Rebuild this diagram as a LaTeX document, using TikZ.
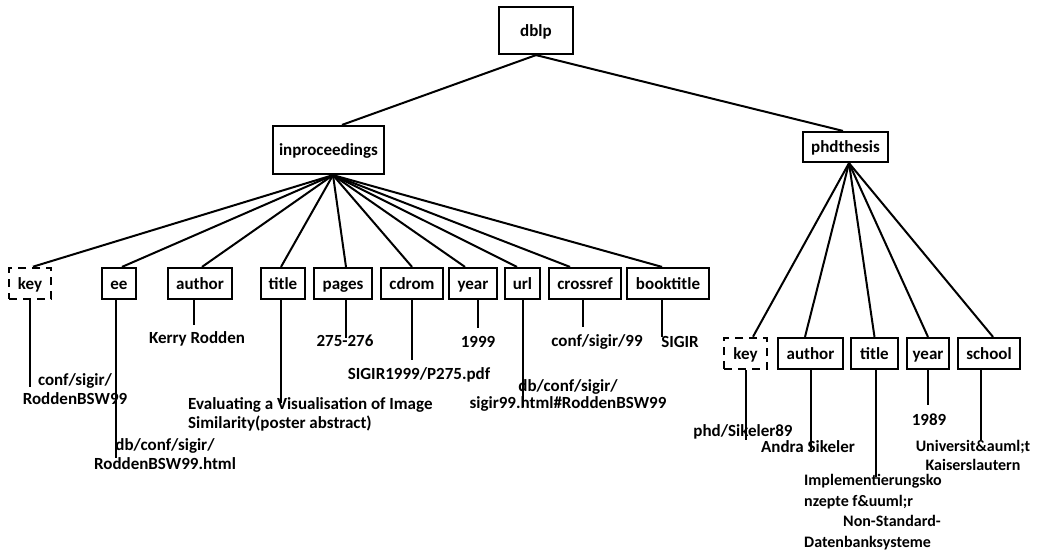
\documentclass[tikz,border=0pt]{standalone}
\usepackage{fontspec}
\setmainfont{Carlito}
\begin{document}
\begin{tikzpicture}[x=1pt,y=-1pt,
  every node/.style={font=\fontsize{17}{19}\selectfont\bfseries},
  box/.style={draw,line width=2.2pt,inner sep=0pt,minimum height=31pt,text height=12.5pt,text depth=1.5pt},
  dbox/.style={box,dashed,line width=2.6pt,dash pattern=on 8pt off 6pt},
  val/.style={inner sep=0pt,align=center},
  conn/.style={line width=2pt}]
\useasboundingbox (0,0) rectangle (1042,550);
% top levels
\node[box,minimum width=74pt,minimum height=47pt] (dblp) at (536,30.5) {dblp};
\node[box,minimum width=111pt,minimum height=48pt] (inp) at (328.5,150) {inproceedings};
\node[box,minimum width=85pt,minimum height=30pt] (phd) at (845.5,147) {phdthesis};
\draw[conn] (dblp.south) -- ([xshift=13.5pt]inp.north);
\draw[conn] (dblp.south) -- ([xshift=-2.5pt]phd.north);
% inproceedings children
\node[dbox,minimum width=42pt] (k1) at (30,283.5) {key};
\node[box,minimum width=34pt] (ee) at (119,283.5) {ee};
\node[box,minimum width=64pt] (au1) at (200,283.5) {author};
\node[box,minimum width=44pt] (ti1) at (283,283.5) {title};
\node[box,minimum width=58pt] (pg) at (343,283.5) {pages};
\node[box,minimum width=62pt] (cd) at (412,283.5) {cdrom};
\node[box,minimum width=48pt] (yr1) at (473,283.5) {year};
\node[box,minimum width=35pt] (url) at (522.5,283.5) {url};
\node[box,minimum width=72pt] (cr) at (585,283.5) {crossref};
\node[box,minimum width=82pt] (bt) at (668,283.5) {booktitle};
\coordinate (ib) at ([xshift=4.5pt]inp.south);
\draw[conn] (ib) -- ([xshift=3pt]k1.north);
\draw[conn] (ib) -- ([xshift=3pt]ee.north);
\draw[conn] (ib) -- ([xshift=2pt]au1.north);
\draw[conn] (ib) -- ([xshift=-2pt]ti1.north);
\draw[conn] (ib) -- ([xshift=3pt]pg.north);
\draw[conn] (ib) -- (cd.north);
\draw[conn] (ib) -- ([xshift=-8pt]yr1.north);
\draw[conn] (ib) -- ([xshift=-5.5pt]url.north);
\draw[conn] (ib) -- ([xshift=-15pt]cr.north);
\draw[conn] (ib) -- ([xshift=-6pt]bt.north);
% inproceedings values
\node[val] (vk1) at (75,389.5) {conf/sigir/\\RoddenBSW99};
\node[val] (vee) at (165,454.5) {db/conf/sigir/\\RoddenBSW99.html};
\node[val] (vau1) at (197,339) {Kerry Rodden};
\node[val,anchor=west,align=left] (vti1) at (188,414.5) {Evaluating a Visualisation of Image\\Similarity(poster abstract)};
\node[val] (vpg) at (345,341) {275-276};
\node[val] (vcd) at (419,375) {SIGIR1999/P275.pdf};
\node[val] (vyr1) at (478,342) {1999};
\node[val,font=\fontsize{17}{17.5}\selectfont\bfseries] (vurl) at (568,395.5) {db/conf/sigir/\\sigir99.html\#RoddenBSW99};
\node[val] (vcr) at (597,342) {conf/sigir/99};
\node[val] (vbt) at (680,342) {SIGIR};
\coordinate (ek1) at (30,387);
\coordinate (eee) at (116,458);
\coordinate (eau1) at (194,325);
\coordinate (eti1) at (281,403);
\coordinate (epg) at (346,338);
\coordinate (ecd) at (412,360);
\coordinate (eyr1) at (478,328);
\coordinate (eurl) at (523,407);
\coordinate (ecr) at (583,327);
\coordinate (ebt) at (662,337);
\draw[conn] (k1.south) -- (ek1);
\draw[conn] (ee.south -| eee) -- (eee);
\draw[conn] (au1.south -| eau1) -- (eau1);
\draw[conn] (ti1.south -| eti1) -- (eti1);
\draw[conn] (pg.south -| epg) -- (epg);
\draw[conn] (cd.south) -- (ecd);
\draw[conn] (yr1.south -| eyr1) -- (eyr1);
\draw[conn] (url.south -| eurl) -- (eurl);
\draw[conn] (cr.south -| ecr) -- (ecr);
\draw[conn] (bt.south -| ebt) -- (ebt);
% phdthesis children
\node[dbox,minimum width=43pt] (k2) at (745.5,353.5) {key};
\node[box,minimum width=65pt] (au2) at (810.5,353.5) {author};
\node[box,minimum width=47pt] (ti2) at (874.5,353.5) {title};
\node[box,minimum width=42pt] (yr2) at (928,353.5) {year};
\node[box,minimum width=62pt] (sc) at (989,353.5) {school};
\coordinate (pb) at ([xshift=3.5pt]phd.south);
\draw[conn] (pb) -- ([xshift=7.5pt]k2.north);
\draw[conn] (pb) -- ([xshift=-5.5pt]au2.north);
\draw[conn] (pb) -- (ti2.north);
\draw[conn] (pb) -- (yr2.north);
\draw[conn] (pb) -- ([xshift=4pt]sc.north);
% phdthesis values
\node[val] (vk2) at (743,432) {phd/Sikeler89};
\node[val] (vau2) at (808,447) {Andra Sikeler};
\node[val,anchor=west,align=left,font=\fontsize{16}{20.5}\selectfont\bfseries] (vti2) at (804,512) {Implementierungsko\\nzepte f\&uuml;r\\\hspace*{39pt}Non-Standard-\\Datenbanksysteme};
\node[val] (vyr2) at (929,420) {1989};
\node[val,font=\fontsize{16}{19}\selectfont\bfseries] (vsc) at (973,455.5) {Universit\&auml;t\\Kaiserslautern};
\coordinate (ek2) at (746,440);
\coordinate (eau2) at (811,450);
\coordinate (eti2) at (876,477);
\coordinate (eyr2) at (928,405);
\coordinate (esc) at (981,440);
\draw[conn] (k2.south -| ek2) -- (ek2);
\draw[conn] (au2.south -| eau2) -- (eau2);
\draw[conn] (ti2.south -| eti2) -- (eti2);
\draw[conn] (yr2.south) -- (eyr2);
\draw[conn] (sc.south -| esc) -- (esc);
\end{tikzpicture}
\end{document}
